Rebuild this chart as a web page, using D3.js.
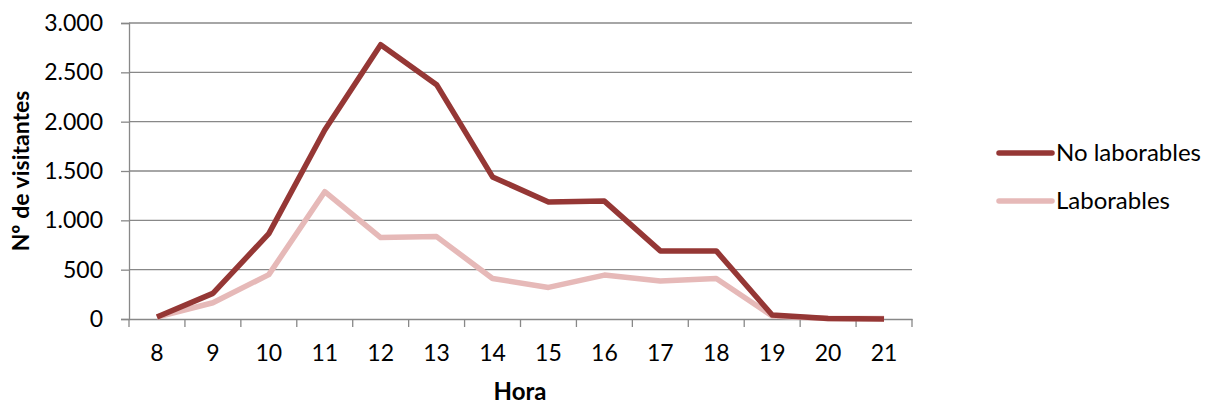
<!DOCTYPE html>
<html><head><meta charset="utf-8">
<script src="https://cdn.jsdelivr.net/npm/d3@7"></script>
<style>body{margin:0;background:#fff;} svg{display:block;font-family:Lato,"Open Sans",sans-serif;}</style>
</head><body>
<svg id="c" width="1215" height="405"></svg>
<script>
const hours = ["8","9","10","11","12","13","14","15","16","17","18","19","20","21"];
const noLaborables = [20,260,865,1915,2780,2375,1440,1185,1195,690,690,40,5,0];
const laborables = [20,165,450,1290,825,835,410,320,445,385,410,30,5,5];
const yTicks = [0,500,1000,1500,2000,2500,3000];
const seriesNames = ["No laborables","Laborables"];
const colors = ["#953735","#E6B9B8"];

const svg = d3.select("#c");
const L=129,R=912,T=23,B=319;
const x = d3.scaleBand().domain(hours).range([L,R]);
const y = d3.scaleLinear().domain([0,3000]).range([B,T]);
const fmt = v => d3.format(",")(v).replace(/,/g,".");

svg.append("g").selectAll("line").data(yTicks.filter(d=>d>0)).join("line")
  .attr("x1",L).attr("x2",R).attr("y1",d=>y(d)).attr("y2",d=>y(d))
  .attr("stroke","#888").attr("stroke-width",1.3);

const yAxis = svg.append("g").attr("transform",`translate(${L},0)`)
  .call(d3.axisLeft(y).tickValues(yTicks).tickFormat(fmt).tickSize(8).tickPadding(18));
yAxis.select(".domain").attr("stroke","#888").attr("stroke-width",1.3);
yAxis.selectAll(".tick line").attr("stroke","#888").attr("stroke-width",1.3);
yAxis.selectAll("text").attr("font-size",23).attr("fill","#000").attr("font-family","Lato");

const xAxis = svg.append("g").attr("transform",`translate(0,${B})`)
  .call(d3.axisBottom(x).tickSize(0).tickPadding(26));
xAxis.select(".domain").attr("stroke","#888").attr("stroke-width",1.3);
xAxis.selectAll("text").attr("font-size",23).attr("fill","#000").attr("font-family","Lato");
svg.append("g").selectAll("line").data(hours.concat(["end"])).join("line")
  .attr("x1",(d,i)=>L+i*x.step()).attr("x2",(d,i)=>L+i*x.step())
  .attr("y1",B).attr("y2",B+8).attr("stroke","#888").attr("stroke-width",1.3);

const line = d3.line().x((d,i)=>x(hours[i])+x.bandwidth()/2).y(d=>y(d));
[laborables,noLaborables].forEach((s,k)=>{
  svg.append("path").datum(s).attr("d",line).attr("fill","none")
    .attr("stroke",colors[1-k]).attr("stroke-width",5.5).attr("stroke-linejoin","round");
});

svg.append("text").attr("transform","translate(29,171) rotate(-90)").attr("text-anchor","middle")
  .attr("font-size",23).attr("font-weight","bold").text("Nº de visitantes");
svg.append("text").attr("x",520).attr("y",400).attr("text-anchor","middle")
  .attr("font-size",24).attr("font-weight","bold").text("Hora");

const lg = svg.append("g");
seriesNames.forEach((n,i)=>{
  const yy = 153 + i*48;
  lg.append("line").attr("x1",999).attr("x2",1052).attr("y1",yy).attr("y2",yy)
    .attr("stroke",colors[i]).attr("stroke-width",5.5).attr("stroke-linecap","round");
  lg.append("text").attr("x",1056).attr("y",yy+8).attr("font-size",24).text(n);
});
</script>
</body></html>
